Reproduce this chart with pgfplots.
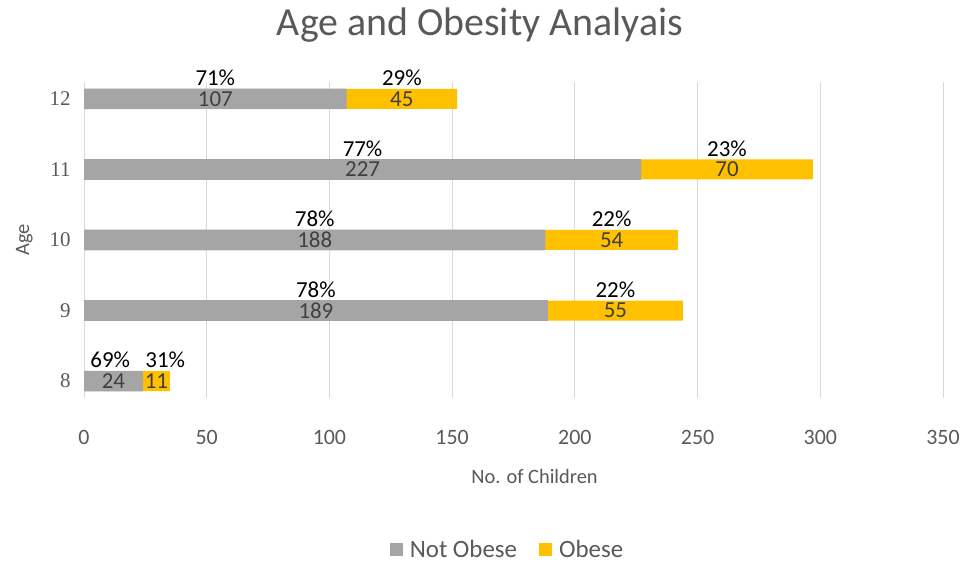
\documentclass[border=0pt]{standalone}
\usepackage{fontspec}
\setmainfont{Carlito}
\newfontfamily\seriffont{Liberation Serif}
\usepackage{pgfplots}
\usepackage{pgfplotstable}
\pgfplotsset{compat=1.18}
\definecolor{notgray}{HTML}{A5A5A5}
\definecolor{obgold}{HTML}{FFC000}
\definecolor{txtgray}{HTML}{595959}
\definecolor{lblgray}{HTML}{404040}
\definecolor{gridgray}{HTML}{D9D9D9}
\pgfplotstableread{
age notob ob pnot pob dxn dxo
8 24 11 69 31 -1.3 3.6
9 189 55 78 22 0 0
10 188 54 78 22 0 0
11 227 70 77 23 0 0
12 107 45 71 29 0 0
}\data
\begin{document}
\begin{tikzpicture}[x=1bp,y=1bp]
\path[use as bounding box] (0,0) rectangle (965,563);
\node[font=\fontsize{40}{44}\selectfont, text=txtgray] at (480,538) {Age and Obesity Analyais};
\begin{axis}[
  at={(84bp,165bp)}, anchor=south west,
  scale only axis, width=859bp, height=316bp,
  xmin=0, xmax=350, ymin=7.76, ymax=12.24, clip=false,
  xtick={0,50,...,350}, ytick={8,9,10,11,12},
  /pgf/number format/assume math mode=true,
  xmajorgrids, grid style={draw=gridgray, line width=0.8pt},
  axis line style={draw=none}, major tick style={draw=none},
  tick label style={text=txtgray},
  xticklabel style={font=\fontsize{22}{24}\selectfont, yshift=-29bp},
  yticklabel style={font=\seriffont\fontsize{21}{22}\selectfont, text=txtgray, xshift=-10bp},
  xlabel={No. of Children}, ylabel={Age},
  xlabel style={font=\fontsize{20.5}{24}\selectfont, text=txtgray, yshift=-18bp, xshift=21bp},
  ylabel style={font=\fontsize{20.5}{24}\selectfont, text=txtgray, yshift=10bp},
  legend style={at={(0.493,-0.48)}, anchor=center, draw=none, legend columns=2,
    font=\fontsize{25}{26}\selectfont, text=txtgray,
    /tikz/every odd column/.append style={column sep=5bp},
    /tikz/every even column/.append style={column sep=20bp}},
  legend image code/.code={\fill[#1] (0bp,-6.5bp) rectangle (13bp,6.5bp);},
]
% legend entries
\addlegendimage{fill=notgray, draw=none}
\addlegendentry{Not Obese}
\addlegendimage{fill=obgold, draw=none}
\addlegendentry{Obese}
% bars: Obese segment drawn as total first, Not Obese over it
\addplot[forget plot, xbar, bar shift=0pt, bar width=20bp, fill=obgold, draw=none]
  table[x expr=\thisrow{notob}+\thisrow{ob}, y=age]{\data};
\addplot[forget plot, xbar, bar shift=0pt, bar width=20.6bp, fill=notgray, draw=none]
  table[x=notob, y=age]{\data};
% value labels
\addplot[forget plot, draw=none, mark=none, nodes near coords, point meta=explicit,
  every node near coord/.style={anchor=center, font=\fontsize{23}{24}\selectfont, text=lblgray}]
  table[x expr=\thisrow{notob}/2, y=age, meta=notob]{\data};
\addplot[forget plot, draw=none, mark=none, nodes near coords, point meta=explicit,
  every node near coord/.style={anchor=center, font=\fontsize{23}{24}\selectfont, text=lblgray}]
  table[x expr=\thisrow{notob}+\thisrow{ob}/2, y=age, meta=ob]{\data};
% percentage labels
\addplot[forget plot, draw=none, mark=none, nodes near coords={\pgfmathprintnumber{\pgfplotspointmeta}\%}, point meta=explicit,
  every node near coord/.style={anchor=center, font=\fontsize{23}{24}\selectfont, text=black}]
  table[x expr=\thisrow{notob}/2+\thisrow{dxn}, y expr=\thisrow{age}+0.3, meta=pnot]{\data};
\addplot[forget plot, draw=none, mark=none, nodes near coords={\pgfmathprintnumber{\pgfplotspointmeta}\%}, point meta=explicit,
  every node near coord/.style={anchor=center, font=\fontsize{23}{24}\selectfont, text=black}]
  table[x expr=\thisrow{notob}+\thisrow{ob}/2+\thisrow{dxo}, y expr=\thisrow{age}+0.3, meta=pob]{\data};
\end{axis}
\end{tikzpicture}
\end{document}
